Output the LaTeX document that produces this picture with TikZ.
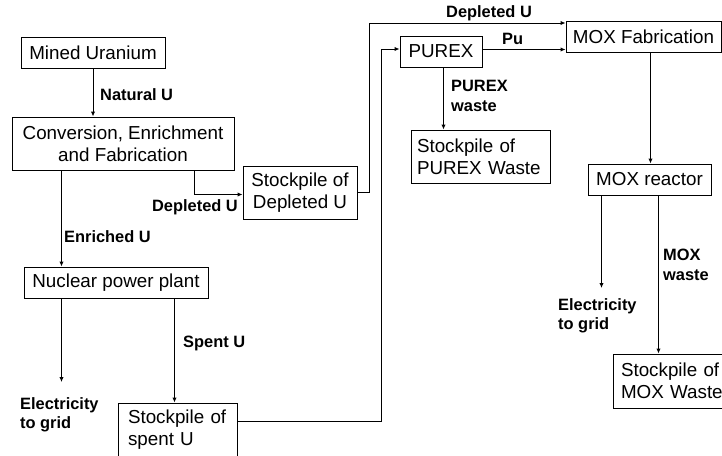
\documentclass[tikz,border=0pt]{standalone}
\usepackage{fontspec}
\setmainfont{Liberation Sans}
\usetikzlibrary{arrows.meta,calc}
\tikzset{
  box/.style={draw, line width=1pt, inner sep=0pt, align=center, font=\fontsize{18.8}{22}\selectfont},
  lbl/.style={font=\fontsize{16.4}{19.5}\selectfont\bfseries, inner sep=0pt, align=left},
  arr/.style={line width=1pt, -{Latex[length=5pt,width=4.5pt]}}
}
\begin{document}
\begin{tikzpicture}[x=1pt,y=-1pt]
\useasboundingbox (0,0) rectangle (722,455);
\clip (0,0) rectangle (722,455);
% boxes
\node[box, minimum width=144pt, minimum height=31pt] (mined) at (93,52.5) {Mined Uranium};
\node[box, minimum width=222pt, minimum height=53pt] (conv) at (123,143.5) {Conversion, Enrichment\\and Fabrication};
\node[box, minimum width=114pt, minimum height=53pt] (depl) at (300,192.5) {Stockpile of\\Depleted U};
\node[box, minimum width=82pt, minimum height=31pt] (purex) at (441,51.5) {PUREX};
\node[box, align=left, text width=127pt, inner xsep=6pt, minimum height=53pt] (pwaste) at (480.5,156.5) {Stockpile of\\PUREX Waste};
\node[box, minimum width=155pt, minimum height=31pt] (moxfab) at (643.5,36.5) {MOX Fabrication};
\node[box, minimum width=123pt, minimum height=31pt] (moxr) at (649.5,179.5) {MOX reactor};
\node[box, align=left, text width=106pt, inner xsep=8pt, minimum height=54pt] (moxw) at (674,381) {Stockpile of\\MOX Waste};
\node[box, minimum width=184pt, minimum height=31pt] (nuc) at (116,282.5) {Nuclear power plant};
\node[box, align=left, text width=99pt, inner xsep=10pt, minimum height=54pt] (spent) at (177.5,430) {Stockpile of\\spent U};
% labels
\node[lbl, anchor=west] (lnat) at (100,95) {Natural U};
\node[lbl, anchor=east] (ldep1) at (238,207) {Depleted U};
\node[lbl, anchor=west] (lenr) at (64,237) {Enriched U};
\node[lbl, anchor=west] (lel1) at (20,415) {Electricity\\to grid};
\node[lbl, anchor=west] (lspent) at (183,343) {Spent U};
\node[lbl, anchor=west] (ldep2) at (446,13) {Depleted U};
\node[lbl, anchor=west] (lpu) at (502,39) {Pu};
\node[lbl, anchor=west] (lpw) at (451,96) {PUREX\\waste};
\node[lbl, anchor=west] (lel2) at (558,316) {Electricity\\to grid};
\node[lbl, anchor=west] (lmw) at (663,265) {MOX\\waste};
% free ends
\coordinate (e1) at (62,382);
\coordinate (e2) at (602,288);
% helper anchors
\path (moxfab.north west) ++(0,2.5) coordinate (q6);
\path (moxfab.south west) ++(0,-3) coordinate (q8);
\path (purex.north west) ++(0,13.5) coordinate (q7);
\path (spent.north east) ++(0,19) coordinate (s7);
% connectors
\draw[arr] (mined.south) -- (mined.south |- conv.north);
\draw[arr] (conv.south west) ++(183,0) coordinate (c2) -- ++(0,24) coordinate (c2b) -- (c2b -| depl.west);
\draw[arr] (conv.south west) ++(50,0) coordinate (c3) -- (c3 |- nuc.north);
\draw[arr] (nuc.south west) ++(38,0) coordinate (c4) -- (c4 |- e1);
\draw[arr] (nuc.south west) ++(151,0) coordinate (c5) -- (c5 |- spent.north);
\draw[arr] (depl.east) -- ++(12,0) coordinate (c6) -- (c6 |- q6) -- (q6);
\draw[arr] (s7) -- ++(144,0) coordinate (c7) -- (c7 |- q7) -- (q7);
\draw[arr] (purex.east |- q8) -- (q8);
\draw[arr] (purex.south west) ++(44,0) coordinate (c9) -- (c9 |- pwaste.north);
\draw[arr] (moxfab.south west) ++(85,0) coordinate (c10) -- (c10 |- moxr.north);
\draw[arr] (moxr.south west) ++(14,0) coordinate (c11) -- (c11 |- e2);
\draw[arr] (moxr.south west) ++(71,0) coordinate (c12) -- (c12 |- moxw.north);
\end{tikzpicture}
\end{document}
